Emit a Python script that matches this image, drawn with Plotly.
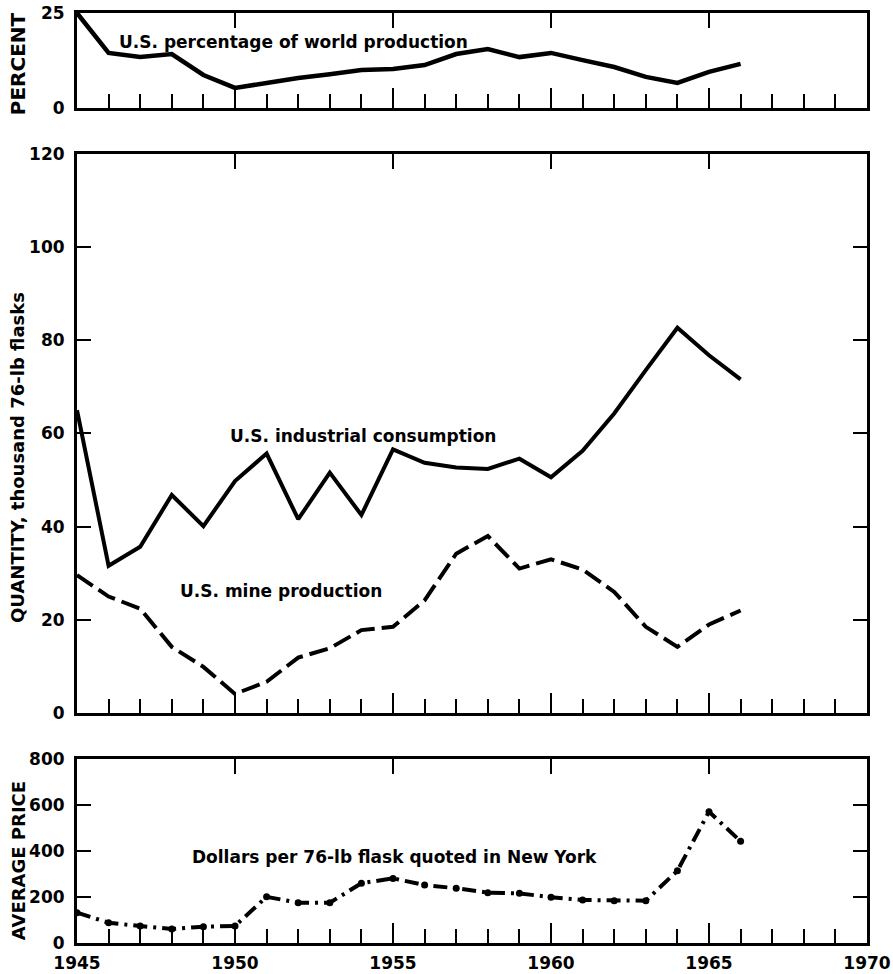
import plotly.graph_objects as go

# Years covered by the series
years = list(range(1945, 1967))

# U.S. share of world mercury production, percent
us_share_pct = [25.0, 14.5, 13.4, 14.2, 8.7, 5.3, 6.6, 7.9, 8.9, 10.0, 10.3,
                11.3, 14.2, 15.5, 13.4, 14.5, 12.6, 10.8, 8.2, 6.6, 9.5, 11.6]

# Thousand 76-lb flasks
industrial_consumption = [65.0, 31.6, 35.7, 46.8, 40.1, 49.8, 55.7, 41.6, 51.6, 42.5, 56.6,
                          53.7, 52.7, 52.4, 54.6, 50.6, 56.3, 64.3, 73.6, 82.7, 76.8, 71.6]
mine_production = [29.6, 25.0, 22.4, 14.2, 9.9, 4.1, 6.7, 11.9, 13.9, 17.8, 18.5,
                   24.2, 34.2, 38.0, 31.0, 33.0, 30.8, 26.0, 18.5, 14.2, 19.0, 22.0]

# Dollars per flask, New York quotation
price_ny = [132, 88, 74, 61, 71, 74, 201, 175, 175, 260, 281,
            252, 238, 219, 216, 199, 187, 184, 184, 314, 571, 442]

x_ticks = [1945, 1950, 1955, 1960, 1965, 1970]
pct_ticks = [0, 25]
qty_ticks = [0, 20, 40, 60, 80, 100, 120]
price_ticks = [0, 200, 400, 600, 800]

FONT = "DejaVu Sans"
INK = "black"

fig = go.Figure()

fig.add_trace(go.Scatter(x=years, y=us_share_pct, mode="lines",
                         line=dict(color=INK, width=4.5), xaxis="x", yaxis="y"))
fig.add_trace(go.Scatter(x=years, y=industrial_consumption, mode="lines",
                         line=dict(color=INK, width=4), xaxis="x2", yaxis="y2"))
fig.add_trace(go.Scatter(x=years, y=mine_production, mode="lines",
                         line=dict(color=INK, width=4, dash="19px,7px"),
                         xaxis="x2", yaxis="y2"))
fig.add_trace(go.Scatter(x=years, y=price_ny, mode="lines+markers",
                         line=dict(color=INK, width=4, dash="14px,6px,3px,6px"),
                         marker=dict(color=INK, size=7),
                         xaxis="x3", yaxis="y3"))
# empty traces so the top-edge tick axes are drawn
for xa, ya in (("x4", "y"), ("x5", "y2"), ("x6", "y3")):
    fig.add_trace(go.Scatter(x=[], y=[], xaxis=xa, yaxis=ya, hoverinfo="skip"))

tickfont = dict(family=FONT, size=17, color=INK, weight="bold")


def bottom_x(anchor, labels):
    return dict(
        anchor=anchor, range=[1945, 1970], domain=[0, 1], automargin=False,
        showline=True, linewidth=3, linecolor=INK, mirror=True,
        showgrid=False, zeroline=False,
        tickmode="array", tickvals=x_ticks,
        ticks="inside", ticklen=20, tickwidth=2, tickcolor=INK,
        minor=dict(dtick=1, tick0=1945, ticks="inside", ticklen=14,
                   tickwidth=2, tickcolor=INK, showgrid=False),
        showticklabels=labels, tickfont=tickfont, ticklabelstandoff=3,
    )


def top_x(over, anchor):
    return dict(
        overlaying=over, anchor=anchor, side="top", range=[1945, 1970],
        automargin=False,
        showline=False, showgrid=False, zeroline=False,
        tickmode="array", tickvals=[1950, 1955, 1960, 1965],
        ticks="inside", ticklen=15, tickwidth=2, tickcolor=INK,
        showticklabels=False,
    )


def left_y(anchor, dom, rng, vals, show_ticks=True):
    return dict(
        anchor=anchor, domain=dom, range=rng, automargin=False,
        showline=True, linewidth=3, linecolor=INK,
        mirror="ticks" if show_ticks else True,
        showgrid=False, zeroline=False,
        tickmode="array", tickvals=vals,
        ticks="inside" if show_ticks else "", ticklen=14, tickwidth=2, tickcolor=INK,
        tickfont=tickfont, ticklabelstandoff=6,
    )


fig.update_layout(
    template="none",
    width=893, height=974,
    margin=dict(l=77, r=26, t=13, b=31, autoexpand=False),
    paper_bgcolor="white", plot_bgcolor="white",
    showlegend=False,
    font=dict(family=FONT, color=INK),
    xaxis=bottom_x("y", False),
    xaxis2=bottom_x("y2", False),
    xaxis3=bottom_x("y3", True),
    xaxis4=top_x("x", "y"),
    xaxis5=top_x("x2", "y2"),
    xaxis6=top_x("x3", "y3"),
    yaxis=left_y("x", [0.8978, 1.0], [0, 25], pct_ticks, show_ticks=False),
    yaxis2=left_y("x2", [0.2473, 0.8484], [0, 120], qty_ticks),
    yaxis3=left_y("x3", [0.0, 0.1978], [0, 800], price_ticks),
)

label_font = dict(family=FONT, size=17, color=INK, weight="bold")
annotations = [
    dict(text="U.S. percentage of world production", x=1951.85, y=17.4,
         xref="x", yref="y"),
    dict(text="U.S. industrial consumption", x=1954.05, y=59.4,
         xref="x2", yref="y2"),
    dict(text="U.S. mine production", x=1951.45, y=26.2,
         xref="x2", yref="y2"),
    dict(text="Dollars per 76-lb flask quoted in New York", x=1955.05, y=374,
         xref="x3", yref="y3"),
]
for a in annotations:
    fig.add_annotation(showarrow=False, xanchor="center", yanchor="middle",
                       font=label_font, **a)

# rotated axis titles
titles = [
    ("PERCENT", 0.946, 20),
    ("QUANTITY, thousand 76-lb flasks", 0.5226, 18),
    ("AVERAGE PRICE", 0.089, 18),
]
for text, yp, size in titles:
    fig.add_annotation(text=text, x=-0.0747, y=yp, xref="paper", yref="paper",
                       textangle=-90, showarrow=False, xanchor="center", yanchor="middle",
                       font=dict(family=FONT, size=size, color=INK, weight="bold"))

fig.write_html("out.html")
